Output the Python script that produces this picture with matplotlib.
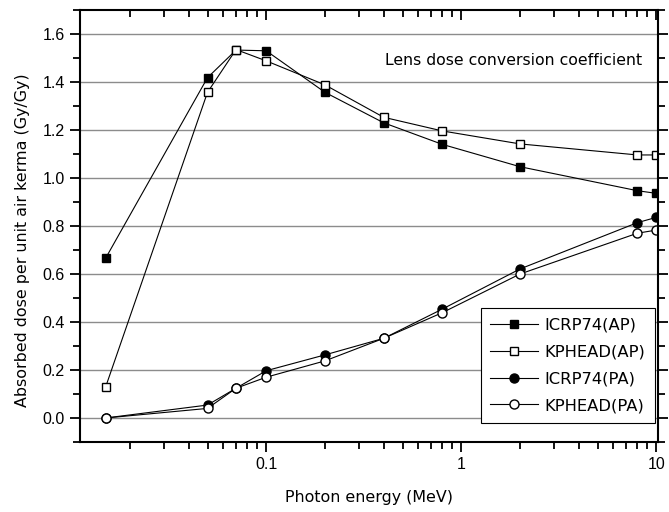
import matplotlib
matplotlib.use("Agg")
import matplotlib.pyplot as plt
from matplotlib.ticker import FixedLocator, LogLocator, MultipleLocator, NullFormatter

# photon energies (MeV)
energy = [0.015, 0.05, 0.07, 0.1, 0.2, 0.4, 0.8, 2, 8, 10]

# lens dose conversion coefficients (Gy/Gy)
icrp74_ap = [0.665, 1.418, 1.533, 1.530, 1.357, 1.230, 1.140, 1.047, 0.947, 0.936]
kphead_ap = [0.128, 1.357, 1.535, 1.488, 1.388, 1.253, 1.196, 1.142, 1.096, 1.096]
icrp74_pa = [0.0, 0.054, 0.124, 0.197, 0.263, 0.332, 0.454, 0.621, 0.814, 0.836]
kphead_pa = [0.0, 0.040, 0.124, 0.170, 0.238, 0.332, 0.439, 0.600, 0.770, 0.783]

xticks = [0.1, 1, 10]
xtick_labels = ["0.1", "1", "10"]

fig = plt.figure(figsize=(6.69, 5.12), dpi=100)
ax = fig.add_axes([0.1196, 0.1367, 0.864, 0.8438])

# horizontal grid lines
for yv in [0.0, 0.2, 0.4, 0.6, 0.8, 1.0, 1.2, 1.4, 1.6]:
    ax.axhline(yv, color="#8c8c8c", lw=1.0, zorder=0)

ax.plot(energy, icrp74_ap, "-s", color="black", mfc="black", mec="black", ms=6, lw=0.8, label="ICRP74(AP)")
ax.plot(energy, kphead_ap, "-s", color="black", mfc="white", mec="black", ms=6, lw=0.8, label="KPHEAD(AP)")
ax.plot(energy, icrp74_pa, "-o", color="black", mfc="black", mec="black", ms=6.5, lw=0.8, label="ICRP74(PA)")
ax.plot(energy, kphead_pa, "-o", color="black", mfc="white", mec="black", ms=6.5, lw=0.8, label="KPHEAD(PA)")

ax.set_xscale("log")
ax.set_xlim(0.0111, 10.2)
ax.set_ylim(-0.1, 1.7)

ax.xaxis.set_major_locator(FixedLocator(xticks))
ax.set_xticklabels(xtick_labels)
ax.xaxis.set_minor_locator(LogLocator(base=10, subs=range(2, 10)))
ax.xaxis.set_minor_formatter(NullFormatter())
ax.yaxis.set_major_locator(MultipleLocator(0.2))
ax.yaxis.set_minor_locator(MultipleLocator(0.1))
ax.yaxis.set_major_formatter(plt.FuncFormatter(lambda v, p: "%.1f" % v))

for s in ax.spines.values():
    s.set_linewidth(1.5)

ax.tick_params(axis="both", which="both", labelsize=11.5, width=1.3, direction="out")
ax.tick_params(axis="both", which="major", length=7, pad=4)
ax.tick_params(axis="both", which="minor", length=5)
ax.tick_params(axis="y", which="both", right=True)
ax.tick_params(axis="x", which="both", top=True)
for lab in ax.get_xticklabels() + ax.get_yticklabels():
    lab.set_family("Liberation Sans")

# top ticks point inward
for t in ax.xaxis.get_major_ticks() + ax.xaxis.get_minor_ticks():
    t.tick2line.set_marker(3)

ax.set_xlabel("Photon energy (MeV)", fontsize=11.4, family="DejaVu Sans")
ax.set_ylabel("Absorbed dose per unit air kerma (Gy/Gy)", fontsize=11.4, family="DejaVu Sans")
ax.xaxis.set_label_coords(0.5, -0.111)
ax.yaxis.set_label_coords(-0.087, 0.4676)

ax.text(0.972, 0.884, "Lens dose conversion coefficient", transform=ax.transAxes,
        ha="right", va="center", fontsize=11.3, family="DejaVu Sans")

leg = ax.legend(loc="lower right", bbox_to_anchor=(0.995, 0.044), fancybox=False, framealpha=1,
                edgecolor="black", fontsize=11.8, handlelength=2.9, borderpad=0.6,
                labelspacing=0.72, handletextpad=0.4, borderaxespad=0.0)
leg.get_frame().set_linewidth(0.8)

fig.savefig("out.png", dpi=100)
